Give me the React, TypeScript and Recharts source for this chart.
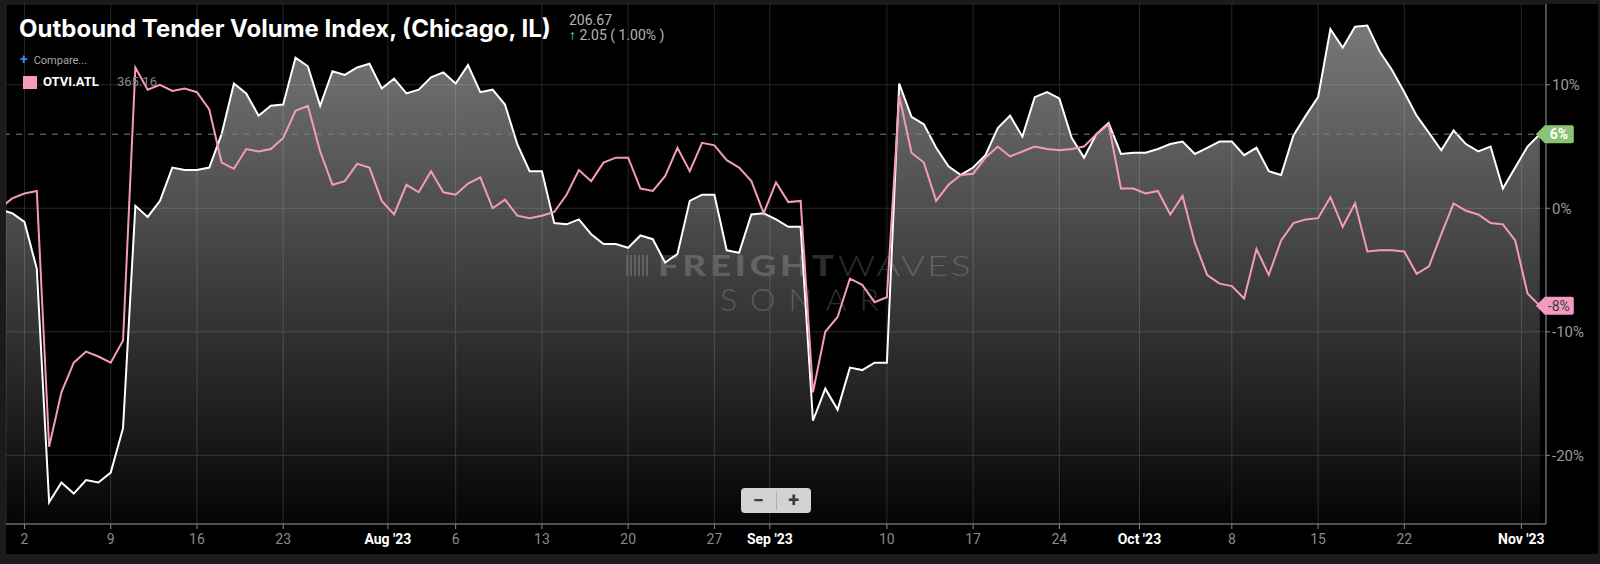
import React from "react";
import {
  ComposedChart,
  Area,
  Line,
  XAxis,
  YAxis,
  CartesianGrid,
  ReferenceLine,
  ReferenceDot,
} from "recharts";

// day index: 0 = Jul 1 2023, first point is Jun 30
const FIRST_DAY = -1;

// OTVI Chicago, % change
const CHICAGO = [
  -0.1, -0.4, -1.1, -4.9, -23.8, -22.2, -23.1, -22.0, -22.2, -21.4, -17.8, 0.2,
  -0.7, 0.6, 3.3, 3.1, 3.1, 3.3, 6.0, 10.1, 9.3, 7.5, 8.3, 8.4, 12.2, 11.5, 8.3,
  11.1, 10.8, 11.4, 11.7, 9.7, 10.5, 9.3, 9.6, 10.6, 11.0, 10.1, 11.6, 9.4, 9.6,
  8.4, 5.2, 3.0, 3.0, -1.2, -1.3, -0.9, -2.1, -2.9, -2.9, -3.2, -2.2, -2.5, -4.4,
  -3.7, 0.6, 1.1, 1.1, -3.4, -3.6, -0.5, -0.4, -0.9, -1.5, -1.5, -17.2, -14.6,
  -16.3, -12.9, -13.1, -12.5, -12.5, 10.1, 7.4, 6.8, 4.9, 3.4, 2.7, 3.3, 4.3, 6.5,
  7.5, 5.8, 9.0, 9.4, 8.9, 5.7, 4.1, 6.0, 6.9, 4.4, 4.5, 4.5, 4.8, 5.2, 5.4, 4.4,
  4.9, 5.4, 5.4, 4.3, 4.9, 3.0, 2.7, 5.9, 7.5, 9.0, 14.5, 13.0, 14.7, 14.8, 12.7,
  11.2, 9.4, 7.5, 6.1, 4.7, 6.3, 5.2, 4.6, 5.0, 1.6, 3.3, 5.0, 6.0,
];

// OTVI.ATL, % change
const ATLANTA = [
  0.0, 0.8, 1.2, 1.4, -19.3, -14.9, -12.5, -11.6, -12.0, -12.5, -10.7, 11.4, 9.6,
  10.0, 9.5, 9.7, 9.4, 8.0, 3.7, 3.2, 4.8, 4.6, 4.8, 5.7, 7.9, 8.3, 4.6, 1.9, 2.2,
  3.6, 3.3, 0.6, -0.5, 1.9, 1.3, 3.0, 1.3, 1.1, 2.0, 2.5, 0.0, 0.7, -0.6, -0.8,
  -0.6, -0.3, 1.1, 3.1, 2.2, 3.7, 4.1, 4.1, 1.6, 1.4, 2.6, 4.9, 3.0, 5.3, 5.1, 3.9,
  3.3, 2.2, -0.4, 2.1, 0.5, 0.6, -14.9, -10.0, -8.8, -5.7, -6.2, -7.6, -7.2, 9.1,
  4.5, 3.7, 0.6, 1.9, 2.7, 2.8, 4.1, 5.0, 4.2, 4.6, 5.0, 4.8, 4.7, 4.8, 5.0, 6.0,
  6.8, 1.6, 1.6, 1.2, 1.4, -0.5, 1.0, -2.8, -5.4, -6.1, -6.3, -7.3, -3.3, -5.4,
  -2.6, -1.2, -0.9, -0.8, 0.9, -1.5, 0.4, -3.5, -3.4, -3.4, -3.5, -5.3, -4.7, -2.1,
  0.4, -0.2, -0.5, -1.2, -1.3, -2.6, -6.9, -7.9,
];

const DAY_TICKS = [1, 8, 15, 22, 36, 43, 50, 57, 71, 78, 85, 99, 106, 113];
const DAY_LABELS = ["2", "9", "16", "23", "6", "13", "20", "27", "10", "17", "24", "8", "15", "22"];
const MONTH_TICKS = [30.5, 61.5, 91.5, 122.5];
const MONTH_LABELS = ["Aug '23", "Sep '23", "Oct '23", "Nov '23"];
const Y_TICKS = [-20, -10, 0, 10];

const X_DOMAIN = [-0.5, 124.5];
const Y_DOMAIN = [-25.56, 16.54];

const PINK = "#f49ac1";

const data = CHICAGO.map((v, i) => ({
  t: FIRST_DAY + i,
  chi: v,
  atl: ATLANTA[i],
}));

const last = data[data.length - 1];

const tickLabel: Record<string, { text: string; month: boolean }> = {};
DAY_TICKS.forEach((t, i) => (tickLabel[String(t)] = { text: DAY_LABELS[i], month: false }));
MONTH_TICKS.forEach((t, i) => (tickLabel[String(t)] = { text: MONTH_LABELS[i], month: true }));
const ALL_TICKS = [...DAY_TICKS, ...MONTH_TICKS].sort((a, b) => a - b);

const XTick = (props: any) => {
  const { x, y, payload } = props;
  const info = tickLabel[String(payload.value)];
  if (!info) return null;
  return (
    <text
      x={x}
      y={y + 13}
      textAnchor="middle"
      fontFamily="Roboto, sans-serif"
      fontSize={14}
      fontWeight={info.month ? 700 : 400}
      fill={info.month ? "#ffffff" : "#8a8a8a"}
    >
      {info.text}
    </text>
  );
};

const Tag = (props: any) => {
  const { cx, cy, fill, color, text, weight } = props;
  if (cx == null || cy == null) return null;
  const l = cx - 4;
  return (
    <g>
      <path
        d={`M${l},${cy} L${l + 9},${cy - 9} H${cx + 32} Q${cx + 34},${cy - 9} ${cx + 34},${cy - 7} V${cy + 7} Q${cx + 34},${cy + 9} ${cx + 32},${cy + 9} H${l + 9} Z`}
        fill={fill}
      />
      <text
        x={cx + 19}
        y={cy + 5}
        textAnchor="middle"
        fontFamily="Roboto, sans-serif"
        fontSize={14}
        fontWeight={weight}
        fill={color}
      >
        {text}
      </text>
    </g>
  );
};

export default function App() {
  return (
    <div
      style={{
        position: "absolute",
        left: 0,
        top: 0,
        width: 1600,
        height: 564,
        background: "#1b1b1b",
        overflow: "hidden",
        fontFamily: "Roboto, sans-serif",
      }}
    >
      {/* black panel */}
      <div style={{ position: "absolute", left: 6, top: 4, width: 1592, height: 550, background: "#000" }} />

      {/* watermark (under the chart, shows through the fill) */}
      <div style={{ position: "absolute", left: 626, top: 255, width: 27, height: 21, display: "flex", gap: 2 }}>
        {[0, 1, 2, 3, 4, 5].map((i) => (
          <div key={i} style={{ width: 2, height: 21, background: "#2c2c2c" }} />
        ))}
      </div>
      <div
        style={{
          position: "absolute",
          left: 658,
          top: 248,
          fontFamily: "Lato, sans-serif",
          fontSize: 28,
          lineHeight: "34px",
          color: "#2e2e2e",
          whiteSpace: "nowrap",
          transform: "scaleX(1.3)",
          transformOrigin: "0 0",
        }}
      >
        <span style={{ fontWeight: 900, letterSpacing: 3 }}>FREIGHT</span>
        <span style={{ fontWeight: 300, letterSpacing: 2 }}>WAVES</span>
      </div>
      <div
        style={{
          position: "absolute",
          left: 720,
          top: 281,
          fontFamily: "Lato, sans-serif",
          fontSize: 32,
          fontWeight: 300,
          lineHeight: "36px",
          letterSpacing: 13,
          color: "#2e2e2e",
          whiteSpace: "nowrap",
        }}
      >
        SONAR
      </div>

      <div style={{ position: "absolute", left: 0, top: 0 }}>
        <ComposedChart
          width={1600}
          height={564}
          data={data}
          margin={{ top: 4, right: 4, bottom: 10, left: 6 }}
        >
          <defs>
            <linearGradient id="chiFill" x1="0" y1="0" x2="0" y2="1">
              <stop offset="0%" stopColor="#ffffff" stopOpacity={0.47} />
              <stop offset="100%" stopColor="#ffffff" stopOpacity={0.02} />
            </linearGradient>
          </defs>
          <CartesianGrid stroke="#272727" strokeWidth={1} />
          <XAxis
            dataKey="t"
            type="number"
            domain={X_DOMAIN}
            allowDataOverflow
            ticks={ALL_TICKS}
            interval={0}
            tick={<XTick />}
            tickSize={5}
            height={30}
            axisLine={{ stroke: "#8a8a8a" }}
            tickLine={{ stroke: "#8a8a8a" }}
          />
          <YAxis
            orientation="right"
            type="number"
            domain={Y_DOMAIN}
            allowDataOverflow
            ticks={Y_TICKS}
            width={50}
            tickSize={4}
            tickMargin={2}
            tickFormatter={(v: number) => `${v}%`}
            tick={{ fill: "#9a9a9a", fontSize: 15, fontFamily: "Roboto, sans-serif" }}
            axisLine={{ stroke: "#8a8a8a" }}
            tickLine={{ stroke: "#8a8a8a" }}
          />
          <Area
            type="linear"
            dataKey="chi"
            stroke="#ffffff"
            strokeWidth={2}
            fill="url(#chiFill)"
            fillOpacity={1}
            baseValue={Y_DOMAIN[0]}
            dot={false}
            activeDot={false}
            isAnimationActive={false}
          />
          <ReferenceLine y={last.chi} stroke="#6c9155" strokeDasharray="6 6" strokeWidth={1} />
          <Line
            type="linear"
            dataKey="atl"
            stroke={PINK}
            strokeWidth={2}
            dot={false}
            activeDot={false}
            isAnimationActive={false}
          />
          <ReferenceDot
            x={last.t}
            y={last.chi}
            ifOverflow="visible"
            shape={(p: any) => <Tag {...p} fill="#8cc275" color="#ffffff" weight={700} text={`${Math.round(last.chi)}%`} />}
          />
          <ReferenceDot
            x={last.t}
            y={last.atl}
            ifOverflow="visible"
            shape={(p: any) => <Tag {...p} fill={PINK} color="#3a3a3a" weight={400} text={`${Math.round(last.atl)}%`} />}
          />
        </ComposedChart>
      </div>

      {/* header */}
      <div
        style={{
          position: "absolute",
          left: 19,
          top: 14,
          fontFamily: "Inter, sans-serif",
          fontSize: 24,
          fontWeight: 700,
          color: "#fff",
          letterSpacing: 0,
          whiteSpace: "nowrap",
        }}
      >
        Outbound Tender Volume Index, (Chicago, IL)
      </div>
      <div style={{ position: "absolute", left: 569, top: 13, fontSize: 14, lineHeight: "15px", color: "#b5b5b5", whiteSpace: "nowrap" }}>
        <div>206.67</div>
        <div>
          <span style={{ color: "#5ee3a1", fontWeight: 700 }}>↑</span> 2.05 ( 1.00% )
        </div>
      </div>
      <div style={{ position: "absolute", left: 20, top: 51, fontSize: 11, color: "#a8a8a8", whiteSpace: "nowrap" }}>
        <span style={{ color: "#3a8ee6", fontWeight: 700, fontSize: 14, marginRight: 6 }}>+</span>
        Compare...
      </div>
      <div style={{ position: "absolute", left: 23, top: 76, width: 14, height: 13, background: PINK }} />
      <div style={{ position: "absolute", left: 43, top: 74, fontSize: 13, fontWeight: 700, color: "#fff", whiteSpace: "nowrap" }}>
        OTVI.ATL
      </div>
      <div style={{ position: "absolute", left: 117, top: 74, fontSize: 13, color: "#8a8a8a", whiteSpace: "nowrap" }}>
        365.16
      </div>

      {/* zoom buttons */}
      <div
        style={{
          position: "absolute",
          left: 741,
          top: 488,
          width: 70,
          height: 25,
          background: "#d2d2d2",
          borderRadius: 4,
          display: "flex",
          alignItems: "center",
        }}
      >
        <div style={{ flex: 1, textAlign: "center", fontSize: 20, fontWeight: 700, color: "#3c3c3c", lineHeight: "25px" }}>−</div>
        <div style={{ width: 1, height: 19, background: "#b0b0b0" }} />
        <div style={{ flex: 1, textAlign: "center", fontSize: 20, fontWeight: 700, color: "#3c3c3c", lineHeight: "25px" }}>+</div>
      </div>
    </div>
  );
}
